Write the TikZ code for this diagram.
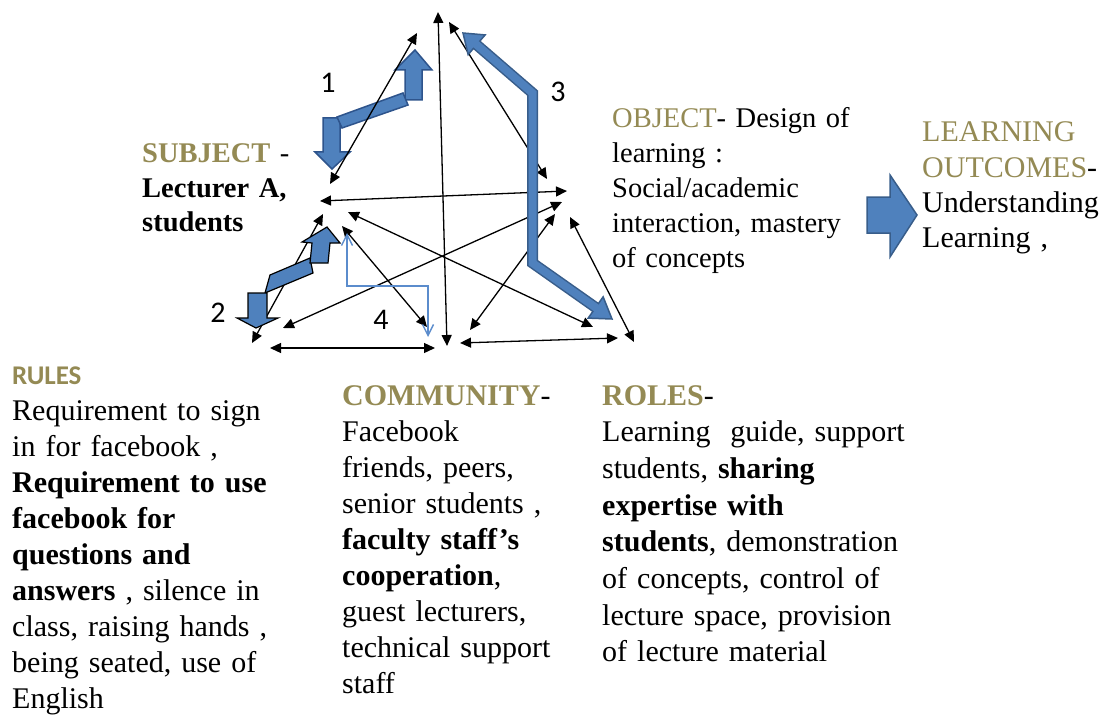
\documentclass[tikz,border=0pt]{standalone}
\usepackage{fontspec}
\setmainfont{Liberation Serif}
\newfontfamily\carlito{Carlito}
\usetikzlibrary{arrows.meta,calc}
\definecolor{gold}{RGB}{148,138,84}
\definecolor{bfill}{RGB}{79,129,189}
\definecolor{bline}{RGB}{56,93,138}
\definecolor{bdark}{RGB}{46,84,140}
\definecolor{thinblue}{RGB}{91,140,204}
\begin{document}
\begin{tikzpicture}[x=1pt,y=-1pt,
  txt/.style={anchor=base west, inner sep=0pt, align=left},
  num/.style={inner sep=0pt, font=\carlito\fontsize{30}{30}\selectfont},
  conn/.style={{Triangle[length=11pt,width=10pt]}-{Triangle[length=11pt,width=10pt]}, line width=1.3pt, black},
  thinconn/.style={{Straight Barb[length=11pt,width=11pt]}-{Straight Barb[length=11pt,width=11pt]}, line width=1.4pt, thinblue},
  blockone/.style={fill=bfill, draw=bdark, line width=1.5pt, line join=miter},
  blocktwo/.style={fill=bfill, draw=black, line width=1.2pt, line join=miter},
  blockbig/.style={fill=bfill, draw=bline, line width=1.5pt, line join=miter}]
\useasboundingbox (0,0) rectangle (1107,714);

% ---------- texts ----------
\node[txt, text width=200pt, font=\fontsize{28.5}{34.5}\selectfont] (subj) at (142,163)
  {\textbf{\textcolor{gold}{SUBJECT}} -\\ \textbf{Lecturer A,}\\ \textbf{students}};
\node[txt, text width=260pt, font=\fontsize{28.5}{35}\selectfont] (obj) at (612,128)
  {\textcolor{gold}{OBJECT}- Design of\\ learning :\\ Social/academic\\ interaction, mastery\\ of concepts};
\node[txt, text width=200pt, font=\fontsize{30}{35.3}\selectfont] (lo) at (922,142)
  {\textcolor{gold}{LEARNING}\\ \textcolor{gold}{OUTCOMES}-\\ Understanding\\ Learning ,};
\node[txt, text width=300pt, font=\fontsize{30}{36}\selectfont] (rules) at (12,384)
  {{\carlito\bfseries\fontsize{27}{36}\selectfont\textcolor{gold}{RULES}}\\
   Requirement to sign\\ in for facebook ,\\ \textbf{Requirement to use}\\ \textbf{facebook for}\\
   \textbf{questions and}\\ \textbf{answers} , silence in\\ class, raising hands ,\\ being seated, use of\\ English};
\node[txt, text width=240pt, font=\fontsize{30}{36}\selectfont] (comm) at (342,405)
  {\textbf{\textcolor{gold}{COMMUNITY}}-\\ Facebook\\ friends, peers,\\ senior students ,\\
   \textbf{faculty staff’s}\\ \textbf{cooperation},\\ guest lecturers,\\ technical support\\ staff};
\node[txt, text width=330pt, font=\fontsize{30}{36.7}\selectfont] (roles) at (602,405)
  {\textbf{\textcolor{gold}{ROLES}}-\\ Learning\ \ guide, support\\ students, \textbf{sharing}\\
   \textbf{expertise with}\\ \textbf{students}, demonstration\\ of concepts, control of\\
   lecture space, provision\\ of lecture material};

\node[num] (n1) at (328,83) {1};
\node[num] (n2) at (218,313) {2};
\node[num] (n3) at (558,92) {3};
\node[num] (n4) at (381,320) {4};

% ---------- blue block arrow 1 ----------
\draw[blockone] (323,118) -- (340,118) -- (340,152) -- (350,152) -- (332,169) -- (315,152) -- (323,152) -- cycle;
\draw[blockone] (405,100) -- (405,70) -- (395,70) -- (415,50) -- (432,70) -- (422,70) -- (422,100) -- cycle;
\draw[blockone] (337,117) -- (403,93) -- (408,105) -- (342,128) -- cycle;

% ---------- black connectors ----------
\coordinate (a1s) at (330,184);  \coordinate (a1e) at (417,33);
\coordinate (a2s) at (447,346);  \coordinate (a2e) at (438,12);
\coordinate (a3s) at (449,22);   \coordinate (a3e) at (547,179);
\coordinate (a4s) at (320,201);  \coordinate (a4e) at (567,191);
\coordinate (a5s) at (348,212);  \coordinate (a5e) at (593,327);
\coordinate (a6s) at (562,202);  \coordinate (a6e) at (283,328);
\coordinate (a7s) at (323,214);  \coordinate (a7e) at (252,343);
\coordinate (a8s) at (342,226);  \coordinate (a8e) at (427,327);
\coordinate (a9s) at (555,214);  \coordinate (a9e) at (470,330);
\coordinate (a10s) at (570,217); \coordinate (a10e) at (634,342);
\coordinate (a11s) at (270,348); \coordinate (a11e) at (435,348);
\coordinate (a12s) at (460,343); \coordinate (a12e) at (618,338);
\foreach \i in {1,...,12} {\draw[conn] (a\i s) -- (a\i e);}

% ---------- thin blue stepped arrow 4 ----------
\coordinate (t4s) at (347,233);
\coordinate (t4e) at (428,337);
\draw[thinconn] (t4s) -- (347,286) -- (428,286) -- (t4e);

% ---------- blue block arrow 2 ----------
\draw[blocktwo] (270,275) -- (310,258) -- (313,273) -- (265,293) -- cycle;
\draw[blocktwo] (248,293) -- (267,293) -- (267,318) -- (278,318) -- (256,328) -- (237,318) -- (248,318) -- cycle;
\draw[blocktwo] (310,263) -- (312,243) -- (302,242) -- (327,227) -- (340,243) -- (330,243) -- (328,263) -- cycle;

% ---------- blue bent arrow 3 ----------
\coordinate (t1) at (463,33);
\coordinate (k1) at (532.5,93);
\coordinate (k2) at (532.5,263);
\coordinate (t2) at (612,319);
\coordinate (b1) at ($(t1)!18pt!(k1)$);
\coordinate (b2) at ($(t2)!20pt!(k2)$);
\draw[bline, line width=11pt, line join=miter] (b1) -- (k1) -- (k2) -- (b2);
\draw[blockbig] (t1) -- ($(b1)!13pt!90:(t1)$) -- ($(b1)!13pt!-90:(t1)$) -- cycle;
\draw[blockbig] (t2) -- ($(b2)!13pt!90:(t2)$) -- ($(b2)!13pt!-90:(t2)$) -- cycle;
\draw[bfill, line width=8pt, line join=miter] ($(b1)!4pt!(t1)$) -- (k1) -- (k2) -- ($(b2)!4pt!(t2)$);

% ---------- big arrow to learning outcomes ----------
\draw[blockbig] (867,197) -- (890,197) -- (890,175) -- (917,215) -- (890,257) -- (890,233) -- (867,233) -- cycle;
\end{tikzpicture}
\end{document}
